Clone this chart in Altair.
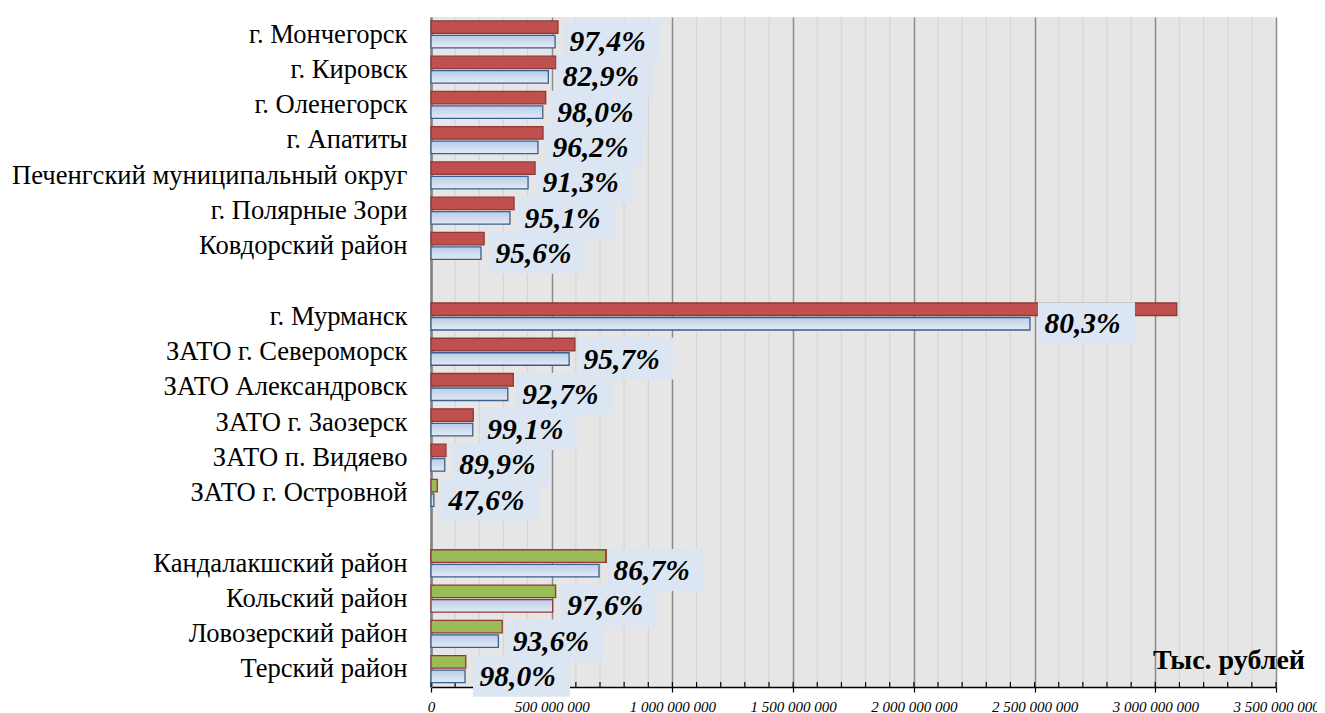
import altair as alt
import pandas as pd

# ---- data -------------------------------------------------------------
rows = ["г. Мончегорск", "г. Кировск", "г. Оленегорск", "г. Апатиты",
        "Печенгский муниципальный округ", "г. Полярные Зори", "Ковдорский район",
        " ",
        "г. Мурманск", "ЗАТО г. Североморск", "ЗАТО Александровск", "ЗАТО г. Заозерск",
        "ЗАТО п. Видяево", "ЗАТО г. Островной",
        "  ",
        "Кандалакшский район", "Кольский район", "Ловозерский район", "Терский район"]

names = [r for r in rows if r.strip()]

# billions of rubles (axis shows rubles)
blue_vals = [0.514, 0.486, 0.463, 0.443, 0.402, 0.327, 0.207,
             2.481, 0.572, 0.318, 0.173, 0.057, 0.012,
             0.696, 0.504, 0.279, 0.141]
red_vals = [0.526, 0.518, 0.475, 0.464, 0.431, 0.344, 0.220,
            3.089, 0.596, 0.341, 0.175, 0.062, None,
            0.804, None, None, None]
green_vals = [None, None, None, None, None, None, None,
              None, None, None, None, None, 0.026,
              0.724, 0.516, 0.295, 0.144]
pct_labels = ["97,4%", "82,9%", "98,0%", "96,2%", "91,3%", "95,1%", "95,6%",
              "80,3%", "95,7%", "92,7%", "99,1%", "89,9%", "47,6%",
              "86,7%", "97,6%", "93,6%", "98,0%"]

x_ticks = [0, 5e8, 1e9, 1.5e9, 2e9, 2.5e9, 3e9, 3.5e9]
minor_ticks = [i * 1e8 for i in range(0, 36)]
unit_label = "Тыс. рублей"

df = pd.DataFrame({
    "name": names,
    "blue": [v * 1e9 for v in blue_vals],
    "red": [None if v is None else v * 1e9 for v in red_vals],
    "green": [None if v is None else v * 1e9 for v in green_vals],
    "pct": pct_labels,
})
df_minor = pd.DataFrame({"v": minor_ticks})
df_minor_grid = pd.DataFrame({"v": [t for t in minor_ticks if t % 5e8 != 0]})

W, H = 845, 670

xscale = alt.Scale(domain=[0, 3.5e9], nice=False, zero=True)
yscale = alt.Scale(domain=rows, paddingInner=0, paddingOuter=0)

label_expr = ("replace(replace(replace(format(datum.value, ','), ',', ' '), ',', ' '), ',', ' ')")
x_axis = alt.Axis(values=x_ticks, labelExpr=label_expr, grid=True, title=None,
                  labelOverlap=False, labelFlush=False)
y_axis = alt.Axis(title=None, grid=False, ticks=False, labelLimit=600)

X = lambda f: alt.X(f, scale=xscale, axis=x_axis)
Y = alt.Y("name:N", scale=yscale, axis=y_axis)

minor_grid = alt.Chart(df_minor_grid).mark_rule(color="#d6d6d6", strokeWidth=1.2).encode(
    x=X("v:Q")
)
minor_tk = alt.Chart(df_minor).mark_rule(color="#000000", strokeWidth=1.2).encode(
    x=X("v:Q"),
    y=alt.value(H - 5), y2=alt.value(H)
)

red_bars = alt.Chart(df).transform_filter("datum.red != null").mark_bar(
    color="#c0504d", stroke="#8c3a37", strokeWidth=1.3, height=12.5, yOffset=-7.5
).encode(x=X("red:Q"), y=Y)

green_bars = alt.Chart(df).transform_filter("datum.green != null").mark_bar(
    color="#9bbb59", stroke="#953735", strokeWidth=1.3, height=12.5, yOffset=-7.5
).encode(x=X("green:Q"), y=Y)

blue_grad = alt.Gradient(gradient="linear",
                         stops=[alt.GradientStop(color="#b9cce8", offset=0),
                                alt.GradientStop(color="#e3ebf6", offset=1)],
                         x1=0, x2=0, y1=0, y2=1)
blue_bars = alt.Chart(df).mark_bar(
    color=blue_grad, strokeWidth=1.3, height=12.5, yOffset=7
).encode(
    x=X("blue:Q"), y=Y,
    stroke=alt.condition("datum.name == 'Кольский район'",
                         alt.value("#953735"), alt.value("#3a5f8f")),
)

boxes = alt.Chart(df).mark_bar(
    color="#dce6f2", height=42, yOffset=6.5, xOffset=8, x2Offset=105
).encode(x=X("blue:Q"), x2="blue:Q", y=Y)

labels = alt.Chart(df).mark_text(
    align="left", baseline="alphabetic", xOffset=14.5, yOffset=16.6,
    font="Liberation Serif", fontSize=29.5, fontWeight="bold", fontStyle="italic",
    color="#000000"
).encode(x=X("blue:Q"), y=Y, text="pct:N")

unit = alt.Chart(pd.DataFrame({"t": [unit_label]})).mark_text(
    align="right", baseline="alphabetic", font="Liberation Serif",
    fontSize=28, fontWeight="bold", color="#000000"
).encode(x=alt.value(874), y=alt.value(652), text="t:N")

chart = alt.layer(minor_grid, minor_tk, red_bars, green_bars, blue_bars, boxes, labels, unit).properties(
    width=W, height=H,
    background="#ffffff",
    autosize=alt.AutoSizeParams(type="none"),
    padding={"left": 423, "top": 9, "right": 41, "bottom": 26},
).configure_view(
    fill="#e6e6e6", stroke=None
).configure_axisX(
    gridColor="#8a8a8a", gridWidth=1.5, gridOpacity=1,
    domainColor="#000000", domainWidth=1.5,
    tickColor="#000000", tickSize=5, tickWidth=1.2,
    labelFont="Liberation Sans Narrow", labelFontStyle="italic",
    labelFontSize=15, labelColor="#000000", labelPadding=7,
).configure_axisY(
    labelFont="Liberation Serif", labelFontSize=26.6, labelColor="#000000",
    tickSize=0, labelPadding=24,
    domainColor="#808080", domainWidth=2.5,
)

chart.save("out.html", embed_options={"renderer": "svg", "actions": False})
